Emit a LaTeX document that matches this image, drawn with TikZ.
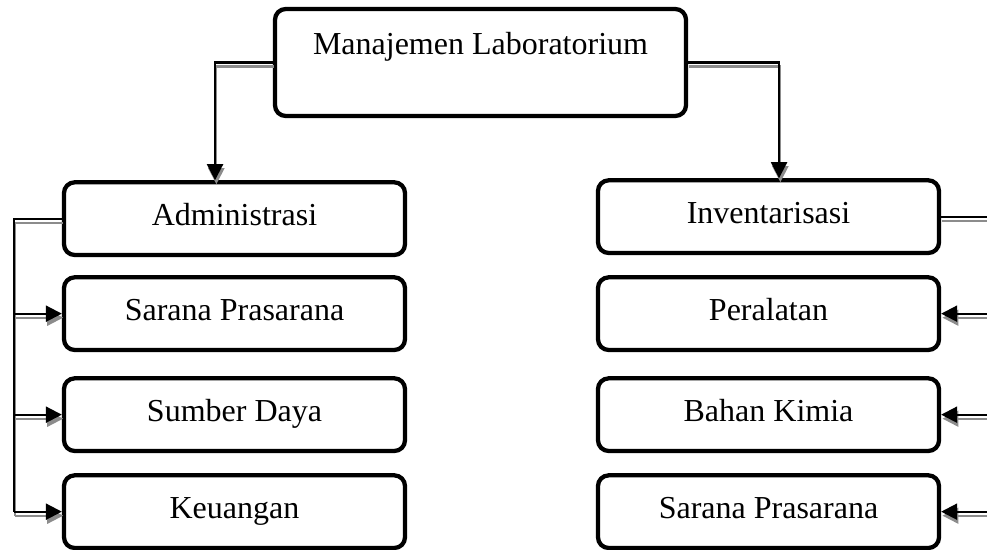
\documentclass[tikz,border=0pt]{standalone}
\usepackage{fontspec}
\setmainfont{Liberation Serif}
\usetikzlibrary{arrows.meta,calc}

\begin{document}
\begin{tikzpicture}[x=0.75pt,y=-0.75pt,
    box/.style={draw,line width=3.2pt,rounded corners=8pt,inner sep=0pt,
      minimum width=255.75pt,text height=32pt,text depth=22.5pt,anchor=base,
      font=\fontsize{24}{28}\selectfont},
    link/.style={line width=1.6pt,
      preaction={draw=black!45,line width=1.6pt,transform canvas={shift={(1pt,-3pt)}}}},
    tip/.style={-{Triangle[width=12pt,length=12pt]}}]
  \useasboundingbox (0,0) rectangle (987,549);
  \clip (0,0) rectangle (987,549);

  % kotak utama
  \node[box,minimum width=308.25pt,text height=34.5pt,text depth=45.75pt] (manajemen) at (480.5,55) {Manajemen Laboratorium};

  % kolom kiri
  \node[box] (adm) at (234.5,225) {Administrasi};
  \node[box] (sarkiri) at (234.5,320) {Sarana Prasarana};
  \node[box] (sdm) at (234.5,421) {Sumber Daya};
  \node[box] (keu) at (234.5,518) {Keuangan};

  % kolom kanan
  \node[box] (inv) at (768.5,223) {Inventarisasi};
  \node[box] (alat) at (768.5,320) {Peralatan};
  \node[box] (kimia) at (768.5,421) {Bahan Kimia};
  \node[box] (sarkanan) at (768.5,518) {Sarana Prasarana};

  \coordinate (kiri) at (14,0);
  \coordinate (kanan) at (1000,0);

  \draw[link,tip] (manajemen.west) -| ([xshift=-14.6pt]adm.north);
  \draw[link,tip] (manajemen.east) -| ([xshift=7.9pt]inv.north);

  \draw[link] (adm.west) -- (adm.west -| kiri) -- (keu.west -| kiri);
  \foreach \n in {sarkiri,sdm,keu}
    \draw[link,tip] (\n.west -| kiri) -- (\n.west);

  \draw[link] (inv.east) -- (inv.east -| kanan) -- (sarkanan.east -| kanan);
  \foreach \n in {alat,kimia,sarkanan}
    \draw[link,tip] (\n.east -| kanan) -- (\n.east);
\end{tikzpicture}
\end{document}
